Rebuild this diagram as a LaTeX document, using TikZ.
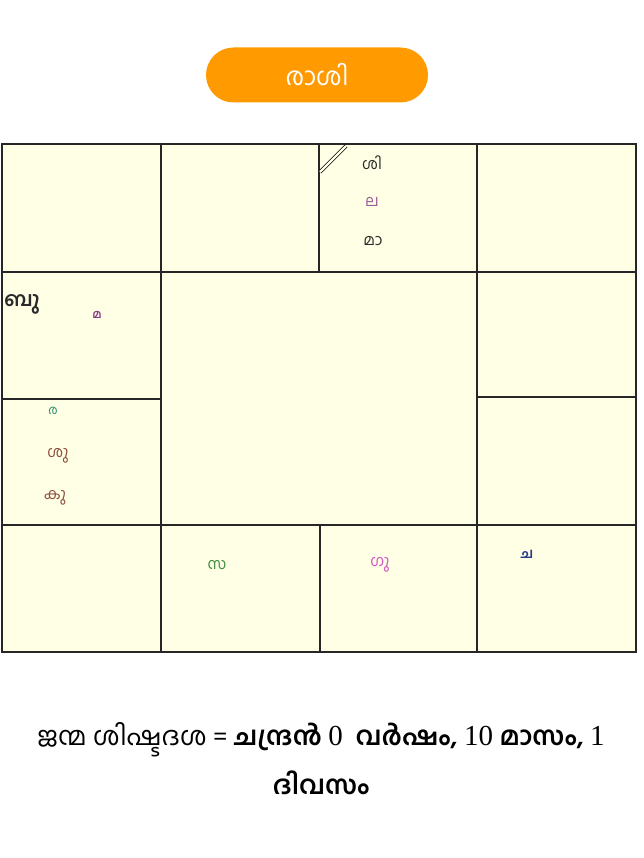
\documentclass[tikz,border=0pt]{standalone}
\usepackage{fontspec}
\newfontfamily\mlfont[Script=Malayalam]{Hind Kochi}
\newfontfamily\numfont{Liberation Serif}
\usetikzlibrary{positioning}
\definecolor{btnorange}{HTML}{FF9A00}
\definecolor{chartfill}{HTML}{FFFFE6}
\definecolor{chartshade}{gray}{0.55}
\definecolor{grahadark}{HTML}{2A2A2A}
\definecolor{grahamauve}{HTML}{9A5A96}
\definecolor{grahapurple}{HTML}{8A3C8A}
\definecolor{grahateal}{HTML}{2E8A70}
\definecolor{grahabrown}{HTML}{8C4E3C}
\definecolor{grahagreen}{HTML}{3E8E3E}
\definecolor{grahapink}{HTML}{D055C4}
\definecolor{grahanavy}{HTML}{2C3A8C}
\newcommand{\dasanum}[1]{{\numfont\mdseries\fontsize{29}{30}\selectfont #1}}
\tikzset{
  titlebtn/.style={
    rectangle, fill=btnorange, rounded corners=27.5pt,
    minimum width=222pt, minimum height=55pt,
    text=white, font=\mlfont\fontsize{25}{28}\selectfont
  },
  gridline/.style={draw=black!85, line width=1.1pt},
  graha/.style={inner sep=0pt, font=\mlfont\fontsize{15.5}{18}\selectfont},
  note/.style={inner sep=0pt, font=\mlfont\fontsize{26}{30}\selectfont}
}

\begin{document}
\begin{tikzpicture}[x=1pt, y=-1pt]
  \useasboundingbox[fill=white] (0,0) rectangle (643,858);

  % title button
  \node[titlebtn] (rasi) at (317,75) {രാശി};

  % chart frame
  \fill[chartfill] (2,144) rectangle (636,652);
  \draw[chartshade, line width=2.6pt] (2,144) rectangle (636,652);
  \draw[gridline] (2,144) rectangle (636,652);
  \draw[gridline] (2,272) -- (636,272);
  \draw[gridline] (2,525) -- (636,525);
  \draw[gridline] (161,144) -- (161,652);
  \draw[gridline] (477,144) -- (477,652);
  \draw[gridline] (319,144) -- (319,272);
  \draw[gridline] (320,525) -- (320,652);
  \draw[gridline] (2,399) -- (161,399);
  \draw[gridline] (477,397) -- (636,397);
  % lagna mark
  \draw[line width=0.7pt, double=chartfill, double distance=2.4pt] (320,172) -- (346,146);

  % grahas
  \node[graha, text=grahadark] (sikhi) at (372,163) {ശി};
  \node[graha, text=grahamauve] (lagna) at (372,202) {ല};
  \node[graha, text=grahadark] (mandi) at (373,241) {മാ};
  \node[graha, text=grahadark, font=\mlfont\bfseries\fontsize{20}{22}\selectfont] (budha) at (22,304) {ബു};
  \node[graha, text=grahapurple, font=\mlfont\bfseries\fontsize{12}{14}\selectfont] (manda) at (97,315) {മ};
  \node[graha, text=grahateal, font=\mlfont\fontsize{12.5}{14}\selectfont] (ravi) at (53,411) {ര};
  \node[graha, text=grahabrown] (sukra) at (58,456) {ശു};
  \node[graha, text=grahabrown] (kuja) at (55,498) {കു};
  \node[graha, text=grahagreen] (sarpa) at (217,565) {സ};
  \node[graha, text=grahapink] (guru) at (380,565) {ഗു};
  \node[graha, text=grahanavy, font=\mlfont\bfseries\fontsize{14}{16}\selectfont] (chandra) at (527,554) {ച};

  % dasa balance
  \node[note] (dasa) at (321,740) {ജന്മ ശിഷ്ടദശ = \textbf{ചന്ദ്രൻ \dasanum{0}\ \ വർഷം, \dasanum{10} മാസം, \dasanum{1}}};
  \node[note, font=\mlfont\bfseries\fontsize{26}{30}\selectfont] (dasaend) at (321,783) {ദിവസം};
\end{tikzpicture}
\end{document}
